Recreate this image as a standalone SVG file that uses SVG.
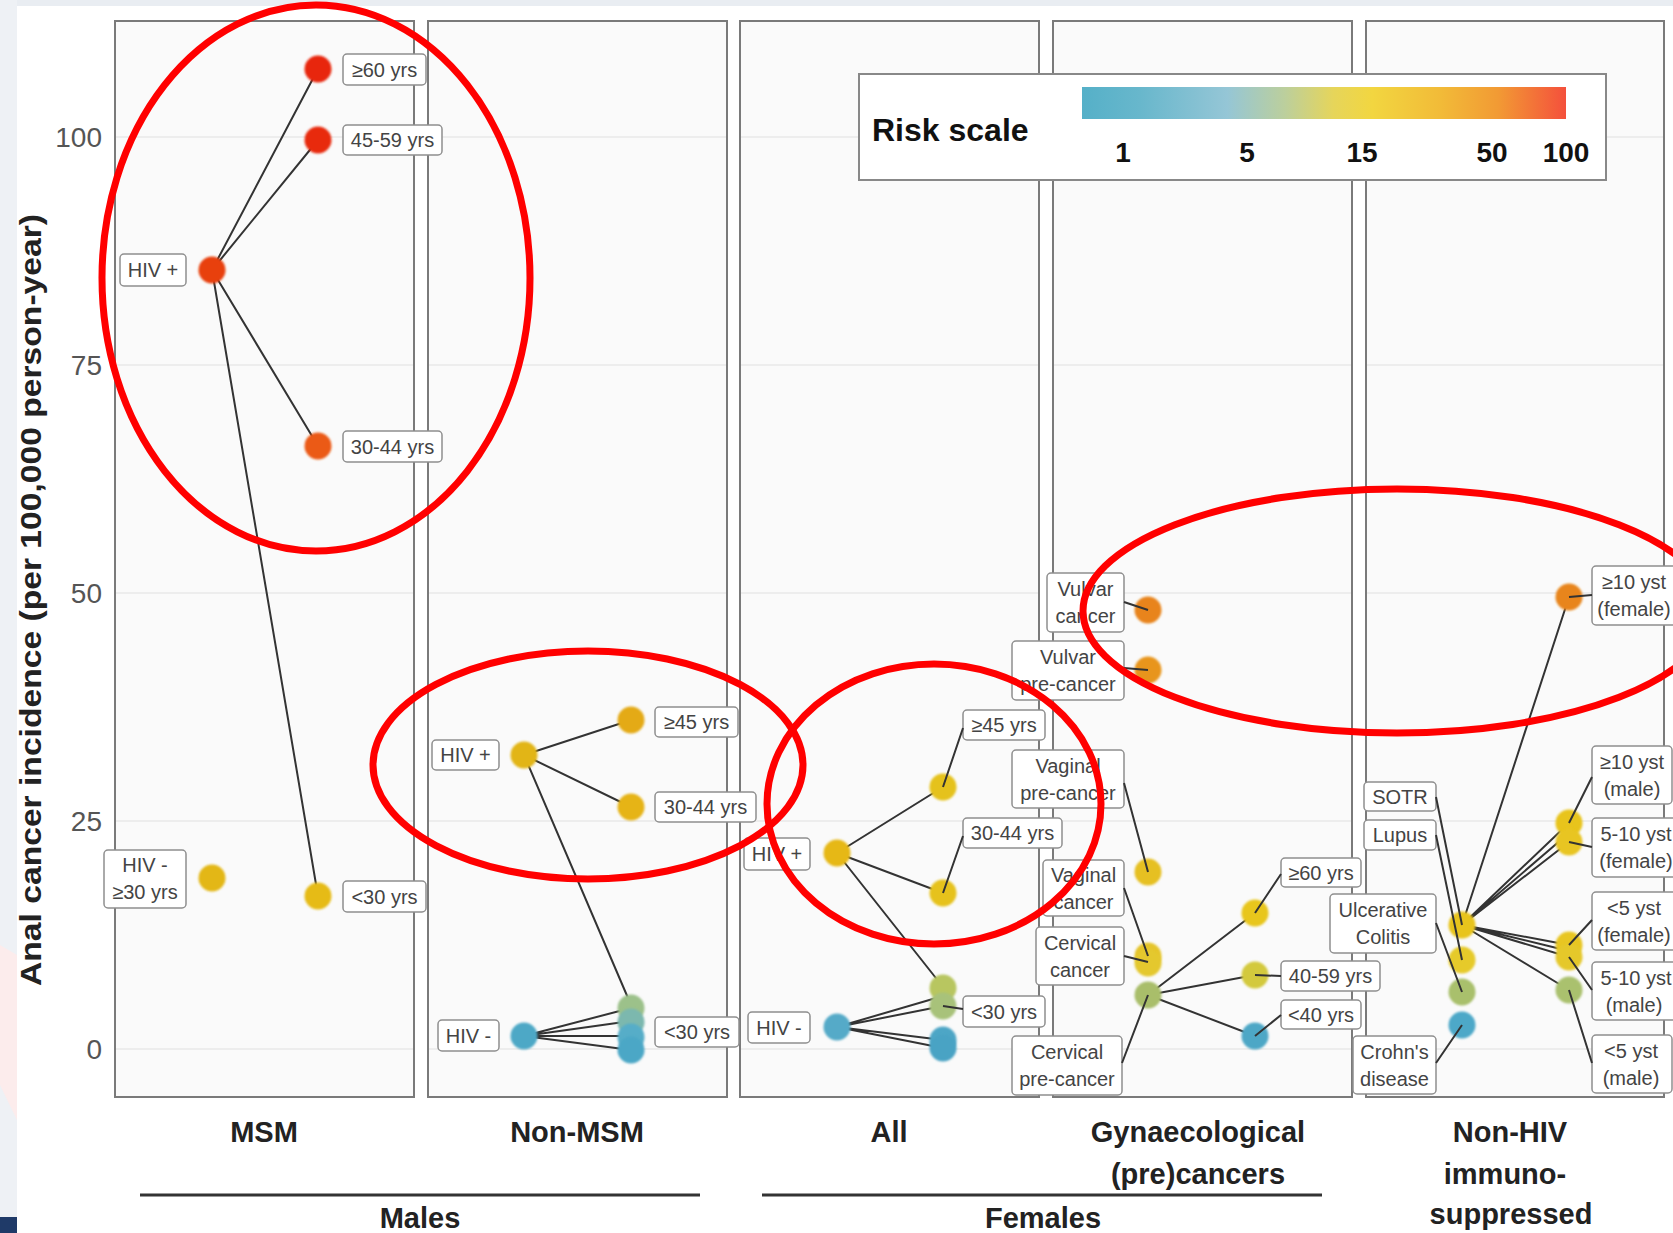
<svg xmlns="http://www.w3.org/2000/svg" width="1673" height="1233" viewBox="0 0 1673 1233">
<style>
.panel{fill:#fafafa;stroke:#7a7a7a;stroke-width:2}
.grid{stroke:#e9e9e9;stroke-width:1.6}
.lbl{fill:#ffffff;stroke:#8f8f8f;stroke-width:1.5}
.lt{font-family:"Liberation Sans",Arial,sans-serif;font-size:20px;fill:#444;text-anchor:middle}
.edge{stroke:#333;stroke-width:2;fill:none;stroke-linecap:round}
.lead{stroke:#333;stroke-width:2;fill:none}
.dot{filter:url(#soft)}
.ytick{font-family:"Liberation Sans",Arial,sans-serif;font-size:28px;fill:#555;text-anchor:end}
.ax{font-family:"Liberation Sans",Arial,sans-serif;font-size:29px;font-weight:bold;fill:#222;text-anchor:middle}
.ring{fill:none;stroke:#ff0000;stroke-width:7}
.leg{font-family:"Liberation Sans",Arial,sans-serif;font-weight:bold;fill:#111}
</style>
<defs>
<filter id="soft" x="-30%" y="-30%" width="160%" height="160%"><feGaussianBlur stdDeviation="0.9"/></filter>
<linearGradient id="risk" x1="0" y1="0" x2="1" y2="0">
<stop offset="0" stop-color="#55b0c8"/>
<stop offset="0.12" stop-color="#68b7cc"/>
<stop offset="0.3" stop-color="#95c6d6"/>
<stop offset="0.42" stop-color="#bccf9c"/>
<stop offset="0.52" stop-color="#e6d55a"/>
<stop offset="0.6" stop-color="#f2d640"/>
<stop offset="0.74" stop-color="#f2bb38"/>
<stop offset="0.86" stop-color="#f29a34"/>
<stop offset="1" stop-color="#f4503c"/>
</linearGradient>
</defs>

<rect x="0" y="0" width="1673" height="1233" fill="#ffffff"/>
<rect x="0" y="0" width="1673" height="6" fill="#e9edf2"/>
<rect x="0" y="0" width="17" height="1233" fill="#eef1f5"/>
<polygon points="0,945 17,955 17,1120 0,1085" fill="#fcecec"/>
<rect x="0" y="1217" width="17" height="16" fill="#1f3a68"/>

<g id="panels">
<rect class="panel" x="115" y="21" width="299" height="1076"/>
<rect class="panel" x="428" y="21" width="299" height="1076"/>
<rect class="panel" x="740" y="21" width="299" height="1076"/>
<rect class="panel" x="1053" y="21" width="299" height="1076"/>
<rect class="panel" x="1366" y="21" width="298" height="1076"/>
</g>
<g id="gridlines">
<path class="grid" d="M116 137H413M116 365H413M116 593H413M116 821H413M116 1049H413"/>
<path class="grid" d="M429 137H726M429 365H726M429 593H726M429 821H726M429 1049H726"/>
<path class="grid" d="M741 137H1038M741 365H1038M741 593H1038M741 821H1038M741 1049H1038"/>
<path class="grid" d="M1054 137H1351M1054 365H1351M1054 593H1351M1054 821H1351M1054 1049H1351"/>
<path class="grid" d="M1367 137H1663M1367 365H1663M1367 593H1663M1367 821H1663M1367 1049H1663"/>
</g>

<g id="y-axis">
<text class="ytick" x="102" y="147">100</text>
<text class="ytick" x="102" y="375">75</text>
<text class="ytick" x="102" y="603">50</text>
<text class="ytick" x="102" y="831">25</text>
<text class="ytick" x="102" y="1059">0</text>
<text class="ax" transform="translate(41,600) rotate(-90)" font-size="31" textLength="772" lengthAdjust="spacingAndGlyphs">Anal cancer incidence (per 100,000 person-year)</text>
</g>

<g id="connectors">
<path class="edge" d="M212 270L318 69M212 270L318 140M212 270L318 446M212 270L318 896"/>
<path class="edge" d="M524 755L631 720M524 755L631 807M524 755L631 1005M524 1036L631 1008M524 1036L631 1021M524 1036L631 1036M524 1036L631 1050"/>
<path class="edge" d="M837 853L943 787M837 853L943 893M837 853L943 987M837 1027L943 996M837 1027L943 1006M837 1027L943 1040M837 1027L943 1048"/>
<path class="edge" d="M1148 995L1255 913M1148 995L1255 975M1148 995L1255 1036"/>
<path class="edge" d="M1462 925L1569 597M1462 925L1569 823M1462 925L1569 833M1462 925L1569 842M1462 925L1569 945M1462 925L1569 951M1462 925L1569 957M1462 925L1569 990"/>
</g>

<g id="node-msm-hivpos"><circle class="dot" cx="212" cy="270" r="13.5" fill="#e8400c"/><rect class="lbl" x="120" y="254" width="66" height="32" rx="4"/><text class="lt" x="153" y="277">HIV +</text></g>
<g id="node-msm-60"><circle class="dot" cx="318" cy="69" r="13.5" fill="#e8260f"/><rect class="lbl" x="343" y="54" width="83" height="31" rx="4"/><text class="lt" x="384.5" y="77">≥60 yrs</text></g>
<g id="node-msm-4559"><circle class="dot" cx="318" cy="140" r="13.5" fill="#e82a10"/><rect class="lbl" x="343" y="125" width="99" height="30" rx="4"/><text class="lt" x="392.5" y="147">45-59 yrs</text></g>
<g id="node-msm-3044"><circle class="dot" cx="318" cy="446" r="13.5" fill="#eb5a14"/><rect class="lbl" x="343" y="431" width="99" height="31" rx="4"/><text class="lt" x="392.5" y="454">30-44 yrs</text></g>
<g id="node-msm-hivneg"><circle class="dot" cx="212" cy="878" r="13.5" fill="#e3b716"/><rect class="lbl" x="104" y="850" width="82" height="58" rx="4"/><text class="lt" x="145" y="872">HIV -<tspan x="145" dy="27">≥30 yrs</tspan></text></g>
<g id="node-msm-30"><circle class="dot" cx="318" cy="896" r="13.5" fill="#e6bb16"/><rect class="lbl" x="343" y="881" width="83" height="31" rx="4"/><text class="lt" x="384.5" y="904">&lt;30 yrs</text></g>

<g id="node-nonmsm-hivpos"><circle class="dot" cx="524" cy="755" r="13.5" fill="#e2b516"/><rect class="lbl" x="432" y="740" width="67" height="30" rx="4"/><text class="lt" x="465.5" y="762">HIV +</text></g>
<g id="node-nonmsm-45"><circle class="dot" cx="631" cy="720" r="13.5" fill="#e4aa15"/><rect class="lbl" x="655" y="707" width="83" height="30" rx="4"/><text class="lt" x="696.5" y="729">≥45 yrs</text></g>
<g id="node-nonmsm-3044"><circle class="dot" cx="631" cy="807" r="13.5" fill="#e6b418"/><rect class="lbl" x="655" y="792" width="101" height="30" rx="4"/><text class="lt" x="705.5" y="814">30-44 yrs</text></g>
<g id="node-nonmsm-hivneg"><circle class="dot" cx="524" cy="1036" r="13.5" fill="#4da8c6"/><rect class="lbl" x="438" y="1020" width="61" height="31" rx="4"/><text class="lt" x="468.5" y="1043">HIV -</text></g>
<g id="node-nonmsm-30"><circle class="dot" cx="631" cy="1008" r="13.5" fill="#9cc18a"/><circle class="dot" cx="631" cy="1022" r="13.5" fill="#7cb8ae"/><circle class="dot" cx="631" cy="1037" r="13.5" fill="#56adc8"/><circle class="dot" cx="631" cy="1050" r="13.5" fill="#4ba7c6"/><rect class="lbl" x="655" y="1017" width="84" height="30" rx="4"/><text class="lt" x="697" y="1039">&lt;30 yrs</text></g>

<g id="node-all-hivpos"><circle class="dot" cx="837" cy="853" r="13.5" fill="#e6b816"/><rect class="lbl" x="744" y="838" width="66" height="32" rx="4"/><text class="lt" x="777" y="861">HIV +</text></g>
<g id="node-all-45"><circle class="dot" cx="943" cy="787" r="13.5" fill="#e5c21a"/><rect class="lbl" x="963" y="710" width="82" height="30" rx="4"/><text class="lt" x="1004" y="732">≥45 yrs</text></g>
<g id="node-all-3044"><circle class="dot" cx="943" cy="893" r="13.5" fill="#e6c21c"/><rect class="lbl" x="963" y="818" width="99" height="30" rx="4"/><text class="lt" x="1012.5" y="840">30-44 yrs</text></g>
<g id="node-all-hivneg"><circle class="dot" cx="837" cy="1027" r="13.5" fill="#55aac8"/><rect class="lbl" x="748" y="1012" width="62" height="31" rx="4"/><text class="lt" x="779" y="1035">HIV -</text></g>
<g id="node-all-30"><circle class="dot" cx="943" cy="988" r="13.5" fill="#b8c660"/><circle class="dot" cx="943" cy="1006" r="13.5" fill="#a8c27a"/><circle class="dot" cx="943" cy="1040" r="13.5" fill="#4ea6c6"/><circle class="dot" cx="943" cy="1048" r="13.5" fill="#4aa3c4"/><rect class="lbl" x="963" y="996" width="82" height="31" rx="4"/><text class="lt" x="1004" y="1019">&lt;30 yrs</text></g>

<g id="node-gyn-vulvar-cancer"><circle class="dot" cx="1148" cy="610" r="13.5" fill="#e8841c"/><rect class="lbl" x="1047" y="573" width="77" height="59" rx="4"/><text class="lt" x="1085.5" y="596">Vulvar<tspan x="1085.5" dy="27">cancer</tspan></text></g>
<g id="node-gyn-vulvar-precancer"><circle class="dot" cx="1148" cy="670" r="13.5" fill="#e8951e"/><rect class="lbl" x="1012" y="641" width="112" height="59" rx="4"/><text class="lt" x="1068" y="664">Vulvar<tspan x="1068" dy="27">pre-cancer</tspan></text></g>
<g id="node-gyn-vaginal-precancer"><circle class="dot" cx="1148" cy="872" r="13.5" fill="#e6c020"/><rect class="lbl" x="1012" y="750" width="112" height="58" rx="4"/><text class="lt" x="1068" y="773">Vaginal<tspan x="1068" dy="27">pre-cancer</tspan></text></g>
<g id="node-gyn-vaginal-cancer"><circle class="dot" cx="1148" cy="956" r="13.5" fill="#e5c52a"/><rect class="lbl" x="1043" y="860" width="81" height="56" rx="4"/><text class="lt" x="1083.5" y="882">Vaginal<tspan x="1083.5" dy="27">cancer</tspan></text></g>
<g id="node-gyn-cervical-cancer"><circle class="dot" cx="1148" cy="963" r="13.5" fill="#e4c82e"/><rect class="lbl" x="1036" y="927" width="88" height="58" rx="4"/><text class="lt" x="1080" y="950">Cervical<tspan x="1080" dy="27">cancer</tspan></text></g>
<g id="node-gyn-cervical-precancer"><circle class="dot" cx="1148" cy="995" r="13.5" fill="#a9be6a"/><rect class="lbl" x="1012" y="1036" width="110" height="59" rx="4"/><text class="lt" x="1067" y="1059">Cervical<tspan x="1067" dy="27">pre-cancer</tspan></text></g>
<g id="node-gyn-60"><circle class="dot" cx="1255" cy="913" r="13.5" fill="#e8c61e"/><rect class="lbl" x="1281" y="858" width="80" height="29" rx="4"/><text class="lt" x="1321" y="880">≥60 yrs</text></g>
<g id="node-gyn-4059"><circle class="dot" cx="1255" cy="975" r="13.5" fill="#d3c93c"/><rect class="lbl" x="1281" y="961" width="99" height="30" rx="4"/><text class="lt" x="1330.5" y="983">40-59 yrs</text></g>
<g id="node-gyn-40"><circle class="dot" cx="1255" cy="1036" r="13.5" fill="#4ea7c6"/><rect class="lbl" x="1281" y="1000" width="80" height="29" rx="4"/><text class="lt" x="1321" y="1022">&lt;40 yrs</text></g>

<g id="node-nonhiv-sotr"><circle class="dot" cx="1462" cy="925" r="13.5" fill="#e8c41a"/><rect class="lbl" x="1364" y="782" width="72" height="29" rx="4"/><text class="lt" x="1400" y="804">SOTR</text></g>
<g id="node-nonhiv-lupus"><circle class="dot" cx="1462" cy="960" r="13.5" fill="#e6ca2c"/><rect class="lbl" x="1364" y="820" width="72" height="30" rx="4"/><text class="lt" x="1400" y="842">Lupus</text></g>
<g id="node-nonhiv-uc"><circle class="dot" cx="1462" cy="992" r="13.5" fill="#a9c06c"/><rect class="lbl" x="1330" y="894" width="106" height="59" rx="4"/><text class="lt" x="1383" y="917">Ulcerative<tspan x="1383" dy="27">Colitis</tspan></text></g>
<g id="node-nonhiv-crohn"><circle class="dot" cx="1462" cy="1025" r="13.5" fill="#4ea8c8"/><rect class="lbl" x="1353" y="1036" width="83" height="58" rx="4"/><text class="lt" x="1394.5" y="1059">Crohn's<tspan x="1394.5" dy="27">disease</tspan></text></g>
<g id="node-nonhiv-f10"><circle class="dot" cx="1569" cy="597" r="13.5" fill="#e8851c"/><rect class="lbl" x="1592" y="566" width="92" height="59" rx="4"/><text class="lt" x="1634" y="589">≥10 yst<tspan x="1634" dy="27">(female)</tspan></text></g>
<g id="node-nonhiv-m10"><circle class="dot" cx="1569" cy="823" r="13.5" fill="#e8c41c"/><rect class="lbl" x="1592" y="746" width="80" height="58" rx="4"/><text class="lt" x="1632" y="769">≥10 yst<tspan x="1632" dy="27">(male)</tspan></text></g>
<g id="node-nonhiv-f510"><circle class="dot" cx="1569" cy="842" r="13.5" fill="#e8c520"/><rect class="lbl" x="1592" y="818" width="92" height="59" rx="4"/><text class="lt" x="1636" y="841">5-10 yst<tspan x="1636" dy="27">(female)</tspan></text></g>
<g id="node-nonhiv-f5"><circle class="dot" cx="1569" cy="945" r="13.5" fill="#e8c624"/><rect class="lbl" x="1592" y="892" width="92" height="58" rx="4"/><text class="lt" x="1634" y="915">&lt;5 yst<tspan x="1634" dy="27">(female)</tspan></text></g>
<g id="node-nonhiv-m510"><circle class="dot" cx="1569" cy="957" r="13.5" fill="#e5c82c"/><rect class="lbl" x="1592" y="962" width="88" height="58" rx="4"/><text class="lt" x="1636" y="985">5-10 yst<tspan x="1634" dy="27">(male)</tspan></text></g>
<g id="node-nonhiv-m5"><circle class="dot" cx="1569" cy="990" r="13.5" fill="#aac16e"/><rect class="lbl" x="1592" y="1035" width="80" height="58" rx="4"/><text class="lt" x="1631" y="1058">&lt;5 yst<tspan x="1631" dy="27">(male)</tspan></text></g>

<g id="leaders">
<path class="lead" d="M963 728L943 787M963 836L943 893M963 1009L943 1006"/>
<path class="lead" d="M1124 602L1148 610M1124 668L1148 670M1124 783L1148 872M1124 888L1148 956M1124 956L1148 962M1122 1063L1148 995M1281 874L1255 913M1281 976L1255 975M1281 1015L1255 1036"/>
<path class="lead" d="M1436 797L1462 925M1436 835L1462 960M1436 923L1462 992M1436 1063L1462 1025M1592 595L1569 597M1592 777L1569 823M1592 847L1569 842M1592 920L1569 945M1592 990L1569 957M1592 1063L1569 990"/>
</g>

<g id="legend">
<rect x="859" y="74" width="747" height="106" fill="#ffffff" stroke="#888" stroke-width="2"/>
<rect x="1082" y="87" width="484" height="32" fill="url(#risk)"/>
<text class="leg" x="872" y="141" font-size="32">Risk scale</text>
<g class="leg" font-size="28" text-anchor="middle">
<text x="1123" y="162">1</text>
<text x="1247" y="162">5</text>
<text x="1362" y="162">15</text>
<text x="1492" y="162">50</text>
<text x="1566" y="162">100</text>
</g>
</g>

<g id="x-axis">
<text class="ax" x="264" y="1142">MSM</text>
<text class="ax" x="577" y="1142">Non-MSM</text>
<text class="ax" x="889" y="1142">All</text>
<text class="ax" x="1198" y="1142">Gynaecological</text>
<text class="ax" x="1198" y="1184">(pre)cancers</text>
<text class="ax" x="1510" y="1142">Non-HIV</text>
<text class="ax" x="1505" y="1184">immuno-</text>
<text class="ax" x="1511" y="1224">suppressed</text>
<path d="M140 1195H700M762 1195H1322" stroke="#333" stroke-width="3"/>
<text class="ax" x="420" y="1228">Males</text>
<text class="ax" x="1043" y="1228">Females</text>
</g>

<g id="highlights">
<ellipse class="ring" cx="316" cy="278" rx="214" ry="273"/>
<ellipse class="ring" cx="588" cy="765" rx="215" ry="114"/>
<ellipse class="ring" cx="934" cy="804" rx="167" ry="140"/>
<ellipse class="ring" cx="1397" cy="611" rx="314" ry="122"/>
</g>
</svg>
